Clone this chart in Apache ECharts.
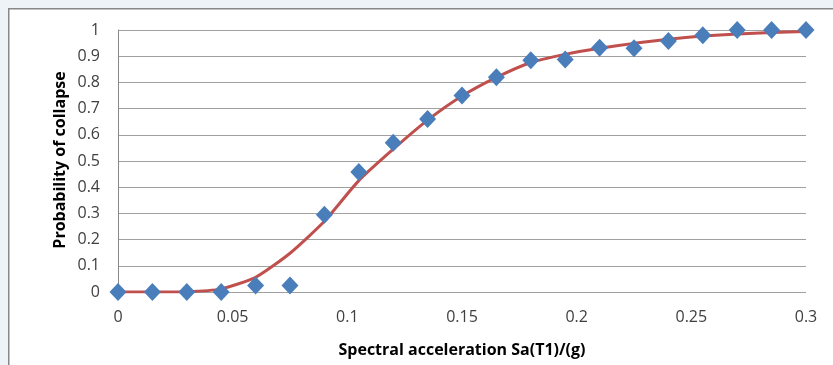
<!DOCTYPE html>
<html>
<head>
<meta charset="utf-8">
<script src="https://cdn.jsdelivr.net/npm/echarts@6/dist/echarts.min.js"></script>
<style>
  html, body { margin: 0; padding: 0; background: #eef3f8; }
  #chart { width: 833px; height: 365px; }
</style>
</head>
<body>
<div id="chart"></div>
<script>
// Spectral acceleration levels, Sa(T1) in g
const saLevels = [0, 0.015, 0.03, 0.045, 0.06, 0.075, 0.09, 0.105, 0.12, 0.135, 0.15,
                  0.165, 0.18, 0.195, 0.21, 0.225, 0.24, 0.255, 0.27, 0.285, 0.3];
// Observed fraction of collapsed records at each level
const observedCollapse = [0, 0, 0, 0, 0.025, 0.025, 0.295, 0.458, 0.57, 0.66, 0.75,
                          0.82, 0.885, 0.887, 0.932, 0.93, 0.958, 0.98, 1, 1, 1];
// Fitted fragility curve at each level
const fittedCollapse = [0, 0, 0.001, 0.012, 0.056, 0.148, 0.27, 0.425, 0.545, 0.656, 0.748,
                        0.819, 0.876, 0.907, 0.93, 0.949, 0.965, 0.977, 0.985, 0.99, 0.994];
const xTicks = [0, 0.05, 0.1, 0.15, 0.2, 0.25, 0.3];
const yTicks = [0, 0.1, 0.2, 0.3, 0.4, 0.5, 0.6, 0.7, 0.8, 0.9, 1];
const xTitle = 'Spectral acceleration Sa(T1)/(g)';
const yTitle = 'Probability of collapse';

const font = 'Open Sans';
const chart = echarts.init(document.getElementById('chart'), null, { renderer: 'canvas' });

chart.setOption({
  backgroundColor: '#eef3f8',
  animation: false,
  graphic: [
    {
      // white chart panel with a grey frame
      type: 'rect',
      left: 8, top: 8, z: -10,
      shape: { width: 900, height: 420 },
      style: { fill: '#ffffff', stroke: '#888888', lineWidth: 1.5 },
      silent: true
    },
    {
      // vertical axis title
      type: 'text',
      x: 60, y: 160,
      rotation: Math.PI / 2,
      style: {
        text: yTitle,
        fontFamily: font, fontSize: 16, fontWeight: 'bold', fill: '#000',
        align: 'center', verticalAlign: 'middle'
      },
      silent: true
    }
  ],
  grid: { left: 118, right: 27, top: 30, bottom: 73, containLabel: false },
  xAxis: {
    type: 'value',
    min: xTicks[0], max: xTicks[xTicks.length - 1], interval: xTicks[1] - xTicks[0],
    name: xTitle,
    nameLocation: 'middle', nameGap: 50,
    nameTextStyle: { fontFamily: font, fontSize: 16, fontWeight: 'bold', color: '#000' },
    axisLine: { show: false },
    axisTick: { show: false },
    splitLine: { show: false },
    axisLabel: { fontFamily: font, fontSize: 16, color: '#404040', margin: 17 }
  },
  yAxis: {
    type: 'value',
    min: yTicks[0], max: yTicks[yTicks.length - 1], interval: yTicks[1] - yTicks[0],
    axisLine: { show: true, lineStyle: { color: '#888888', width: 1 } },
    axisTick: { show: false },
    splitLine: { show: true, lineStyle: { color: '#a0a0a0', width: 1 } },
    axisLabel: { fontFamily: font, fontSize: 16, color: '#404040', margin: 18 }
  },
  series: [
    {
      name: 'Fitted',
      type: 'line',
      data: saLevels.map((x, i) => [x, fittedCollapse[i]]),
      smooth: 0.2,
      showSymbol: false,
      lineStyle: { color: '#c0504d', width: 3 },
      z: 2
    },
    {
      name: 'Observed',
      type: 'scatter',
      data: saLevels.map((x, i) => [x, observedCollapse[i]]),
      symbol: 'diamond',
      symbolSize: [17, 18],
      itemStyle: { color: '#4a7ebb', opacity: 1 },
      z: 3
    }
  ]
});
</script>
</body>
</html>
